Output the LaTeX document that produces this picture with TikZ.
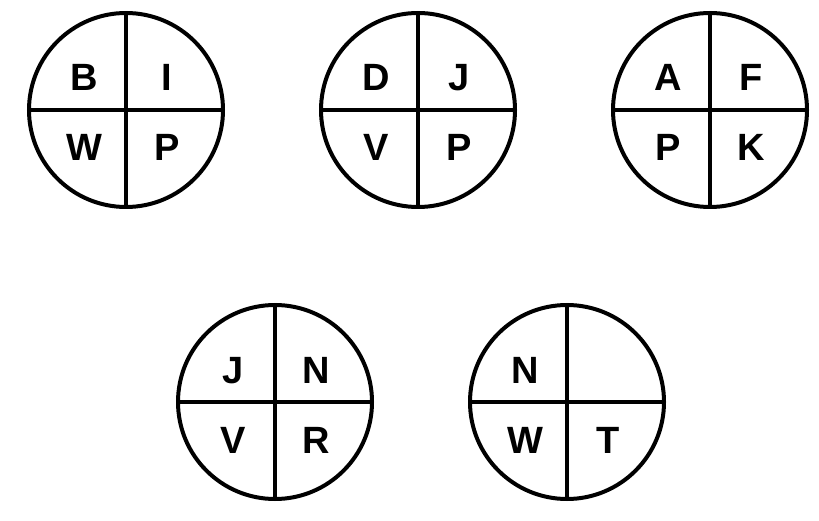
\documentclass[tikz,border=0pt]{standalone}
\usepackage{fontspec}
\setmainfont{Liberation Sans}
\tikzset{
  wheel/.style={draw=black, line width=4pt, circle, minimum size=194pt, inner sep=0pt},
  divider/.style={line width=4pt},
  letter/.style={font=\fontsize{38}{38}\selectfont\bfseries, anchor=base, inner sep=0pt},
}
\newcommand{\quadcircle}[6]{%
  \node[wheel] (#1) at (#2) {};
  \draw[divider] (#1.north) -- (#1.south);
  \draw[divider] (#1.west) -- (#1.east);
  \node[letter] (#1a) at ([shift={(-42,-19)}]#1.center) {#3};
  \node[letter] (#1b) at ([shift={(41,-19)}]#1.center) {#4};
  \node[letter] (#1c) at ([shift={(-42,51)}]#1.center) {#5};
  \node[letter] (#1d) at ([shift={(41,51)}]#1.center) {#6};
}
\begin{document}
\begin{tikzpicture}[x=1pt,y=-1pt]
\useasboundingbox (0,0) rectangle (819,521);
\quadcircle{c1}{126,110}{B}{I}{W}{P}
\quadcircle{c2}{418,110}{D}{J}{V}{P}
\quadcircle{c3}{710,110}{A}{F}{P}{K}
\quadcircle{c4}{275,402}{J}{N}{V}{R}
\quadcircle{c5}{567,402}{N}{}{W}{T}
\end{tikzpicture}
\end{document}
